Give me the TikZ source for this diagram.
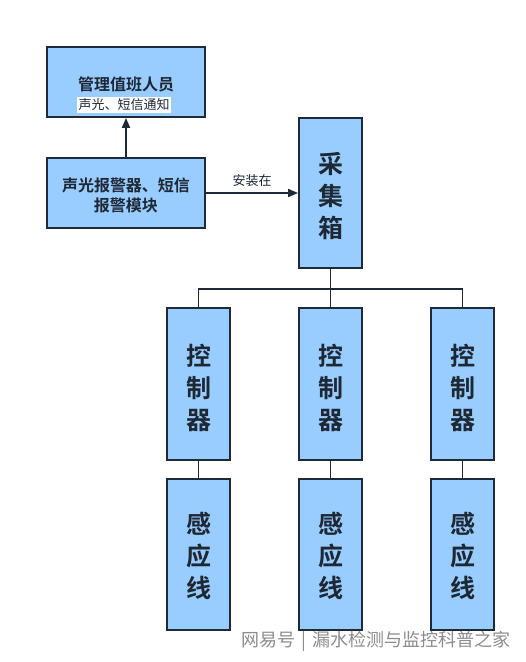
\documentclass[tikz,border=0pt]{standalone}
\usepackage{fontspec}
\setmainfont{Noto Sans CJK SC}
\newfontfamily\cjkb{Noto Sans CJK SC Bold}
\usetikzlibrary{arrows.meta}
\definecolor{boxfill}{RGB}{153,204,255}
\definecolor{boxline}{RGB}{30,42,56}
\definecolor{txt}{RGB}{30,40,52}
\tikzset{
  box/.style={draw=boxline, line width=1.8pt, fill=boxfill, inner sep=0pt},
  wire/.style={draw=boxline, line width=1.8pt},
  arr/.style={wire, -{Triangle[length=10pt,width=8pt]}},
  big/.style={font=\cjkb\fontsize{25}{32}\selectfont, text=txt, align=center},
  mid/.style={font=\cjkb\fontsize{16}{20}\selectfont, text=txt, align=center},
}
\begin{document}
\begin{tikzpicture}[x=1pt,y=-1pt]
\useasboundingbox[fill=white] (0,0) rectangle (526,662);
% top boxes
\node[box, minimum width=158pt, minimum height=70pt] (staff) at (126,82) {};
\node[mid] (stafft) at (126,84) {管理值班人员};
\node[fill=white, inner sep=1.5pt, font=\fontsize{13}{15}\selectfont, text=txt] (notify) at (124,105) {声光、短信通知};
\node[box, minimum width=158pt, minimum height=70pt] (alarm) at (126,193) {};
\node[mid] (alarmt) at (126,195) {声光报警器、短信\\报警模块};
\draw[arr] (alarm.north) -- (staff.south);
% collector
\node[box, minimum width=63pt, minimum height=150pt] (box) at (330.5,193) {};
\node[big] (boxt) at (330.5,196) {采\\集\\箱};
\draw[arr] (alarm.east) -- node[above=2pt, font=\fontsize{13}{15}\selectfont, text=txt] (lbl) {安装在} (box.west);
% controllers and sensors
\foreach \i/\x in {1/198.5, 2/330.5, 3/462.5}{
  \node[box, minimum width=63pt, minimum height=152pt] (c\i) at (\x,384) {};
  \node[big] (ct\i) at (\x,388) {控\\制\\器};
  \node[box, minimum width=63pt, minimum height=151pt] (s\i) at (\x,554.5) {};
  \node[big] (st\i) at (\x,556) {感\\应\\线};
  \draw[wire] (c\i.south) -- (s\i.north);
}
\coordinate (bus) at (330.5,289);
\draw[wire] (box.south) -- (bus);
\draw[wire] (c1.north) |- (bus) -| (c3.north);
\draw[wire] (bus) -- (c2.north);
% watermark
\node[font=\fontsize{18}{20}\selectfont, text=black!45, anchor=west] (wm) at (238,641) {网易号\,\,|\,\,漏水检测与监控科普之家};
\end{tikzpicture}
\end{document}
